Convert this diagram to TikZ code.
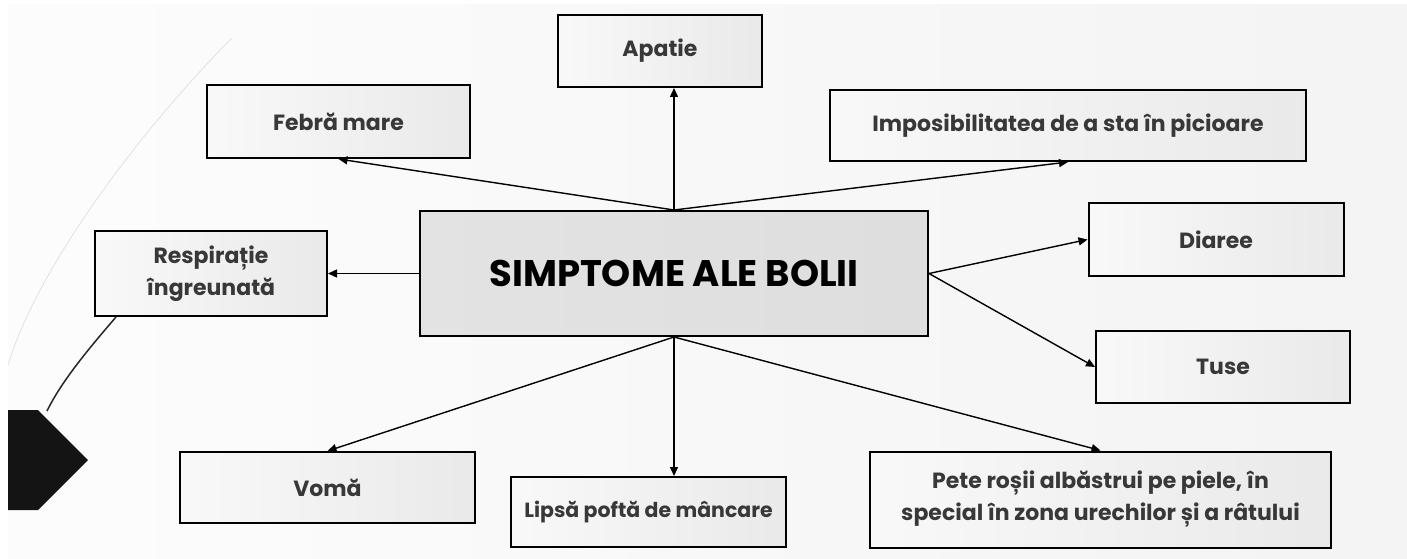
\documentclass[tikz,border=0pt]{standalone}
\usepackage{fontspec}
\setmainfont{Poppins}
\usetikzlibrary{arrows.meta}
\begin{document}
\begin{tikzpicture}[x=1pt,y=-1pt,
  box/.style={draw=black, line width=2pt, left color=gray!5, right color=gray!17, text=black!78, font=\bfseries\fontsize{22}{32}\selectfont, align=center, inner sep=0pt},
  mainbox/.style={box, left color=gray!22, right color=gray!26, text=black, font=\bfseries\fontsize{37}{44}\selectfont},
  link/.style={-{Triangle[length=9pt,width=8pt]}, line width=1.4pt}]
\useasboundingbox (0,0) rectangle (1407,559);
\shade[left color=gray!2, right color=gray!9] (8,5) rectangle (1407,559);
\draw[gray!25, line width=0.7pt] (232,38) .. controls (150,120) and (40,260) .. (8,365);
\node[mainbox, minimum width=508, minimum height=125] (boala) at (674,273.5) {SIMPTOME ALE BOLII};
\node[box, minimum width=204, minimum height=72] (apatie) at (660,51) {Apatie};
\node[box, minimum width=263, minimum height=73] (febra) at (338.5,121.5) {Febră mare};
\node[box, minimum width=476, minimum height=71] (picioare) at (1068,125.5) {Imposibilitatea de a sta în picioare};
\node[box, minimum width=232, minimum height=85] (respiratie) at (211,273.5) {Respirație\\îngreunată};
\node[box, minimum width=255, minimum height=73] (diaree) at (1216,239.5) {Diaree};
\node[box, minimum width=254, minimum height=72] (tuse) at (1223,367) {Tuse};
\node[box, minimum width=295, minimum height=71] (voma) at (327.5,487.5) {Vomă};
\node[box, minimum width=275, minimum height=70, font=\bfseries\fontsize{20.5}{30}\selectfont] (lipsa) at (648.5,512) {Lipsă poftă de mâncare};
\node[box, minimum width=461, minimum height=96] (pete) at (1100.5,499.5) {Pete roșii albăstrui pe piele, în\\special în zona urechilor și a râtului};
\draw[link] (boala.north) -- (boala.north |- apatie.south);
\draw[link] (boala.north) -- (febra.south);
\draw[link] (boala.north) -- (picioare.south);
\draw[link] (boala.west) -- (respiratie.east);
\draw[link] (boala.east) -- (diaree.west);
\draw[link] (boala.east) -- (tuse.west);
\draw[link] (boala.south) -- (voma.north);
\draw[link] (boala.south) -- (boala.south |- lipsa.north);
\draw[link] (boala.south) -- (pete.north);
\coordinate (varf) at (47,411);
\draw[black!85, line width=1.5pt] ([xshift=22pt]respiratie.south west) .. controls (92,345) and (62,380) .. (varf);
\fill[black!92] (8,410) -- (38,410) -- (88,460) -- (38,510) -- (8,510) -- cycle;
\end{tikzpicture}
\end{document}
